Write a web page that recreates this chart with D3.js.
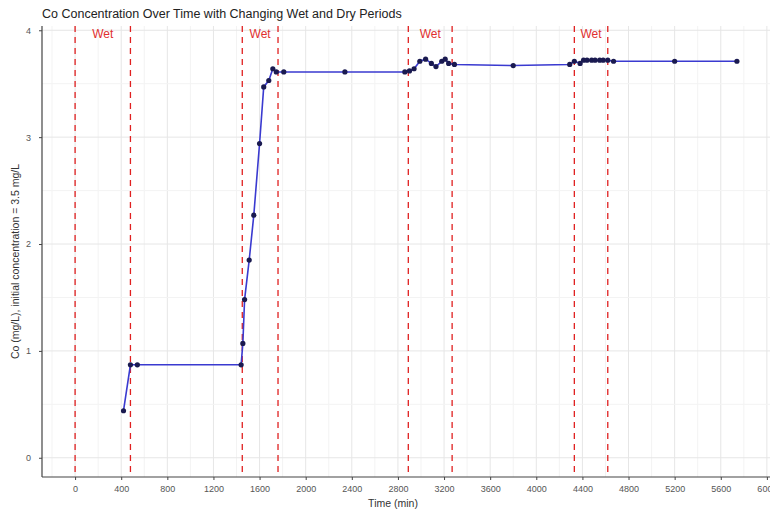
<!DOCTYPE html>
<html><head><meta charset="utf-8">
<script src="https://cdn.jsdelivr.net/npm/d3@7"></script>
<style>body{margin:0;background:#fff;} text{font-family:"Liberation Sans",Arial,sans-serif;}</style>
</head><body><svg id="c" width="770" height="512"></svg>
<script>
const times = [420,480,540,1440,1455,1470,1510,1550,1600,1636,1680,1715,1745,1810,2340,2860,2900,2940,2990,3040,3090,3130,3180,3210,3240,3290,3800,4290,4330,4380,4410,4440,4480,4510,4550,4580,4620,4670,5200,5740];
const conc  = [0.44,0.87,0.87,0.87,1.07,1.48,1.85,2.27,2.94,3.47,3.53,3.64,3.61,3.61,3.61,3.61,3.62,3.64,3.71,3.73,3.69,3.66,3.71,3.73,3.69,3.68,3.67,3.68,3.71,3.69,3.72,3.72,3.72,3.72,3.72,3.72,3.72,3.71,3.71,3.71];
const wetStarts = [0,1450,2890,4330];
const wetEnds   = [480,1760,3270,4620];
const xTicks = [0,400,800,1200,1600,2000,2400,2800,3200,3600,4000,4400,4800,5200,5600,6000];
const yTicks = [0,1,2,3,4];

const svg = d3.select("#c");
const L=42,R=770,T=26,B=477;
const x = d3.scaleLinear().domain([-287,6027]).range([L,R]);
const y = d3.scaleLinear().domain([-0.18,4.04]).range([B,T]);

// grid
const g = svg.append("g");
g.selectAll(".vmin").data(d3.range(-200,6100,200)).join("line")
  .attr("x1",d=>x(d)).attr("x2",d=>x(d)).attr("y1",T).attr("y2",B)
  .attr("stroke",d=>d%400===0?"#e6e6e6":"#f3f3f3").attr("stroke-width",1);
g.selectAll(".hmin").data(d3.range(0,4.01,0.5)).join("line")
  .attr("x1",L).attr("x2",R).attr("y1",d=>y(d)).attr("y2",d=>y(d))
  .attr("stroke",d=>d%1===0?"#e6e6e6":"#f3f3f3").attr("stroke-width",1);

// wet lines
const vls = wetStarts.concat(wetEnds);
svg.selectAll(".wl").data(vls).join("line")
  .attr("x1",d=>x(d)).attr("x2",d=>x(d)).attr("y1",T).attr("y2",B)
  .attr("stroke","#e02020").attr("stroke-width",1.3).attr("stroke-dasharray","6,5");
svg.selectAll(".wt").data(wetStarts).join("text")
  .attr("x",(d,i)=>x((d+wetEnds[i])/2)).attr("y",38).attr("text-anchor","middle")
  .attr("fill","#e03030").attr("font-size",12).text("Wet");

// line & points
const pts = times.map((t,i)=>[t,conc[i]]);
svg.append("path").datum(pts).attr("fill","none").attr("stroke","#3a3ad0").attr("stroke-width",1.6)
  .attr("d",d3.line().x(d=>x(d[0])).y(d=>y(d[1])));
svg.selectAll(".pt").data(pts).join("circle")
  .attr("cx",d=>x(d[0])).attr("cy",d=>y(d[1])).attr("r",2.6).attr("fill","#1a1a50");

// axes
const xa = svg.append("g").attr("transform",`translate(0,${B})`)
  .call(d3.axisBottom(x).tickValues(xTicks).tickSize(3).tickPadding(6).tickFormat(d3.format("d")));
const ya = svg.append("g").attr("transform",`translate(${L},0)`)
  .call(d3.axisLeft(y).tickValues(yTicks).tickSize(3).tickPadding(8).tickFormat(d3.format("d")));
[xa,ya].forEach(a=>{
  a.select(".domain").attr("stroke","#444").attr("stroke-width",1.2);
  a.selectAll(".tick line").attr("stroke","#444");
  a.selectAll(".tick text").attr("fill","#555").attr("font-size",9).attr("font-family","Liberation Sans, Arial, sans-serif");
});
xa.select(".domain").attr("d",`M${L},0H${R}`);
ya.select(".domain").attr("d",`M0,${T}V${B}`);

// titles
svg.append("text").attr("x",L).attr("y",18).attr("fill","#222").attr("font-size",12.5)
  .text("Co Concentration Over Time with Changing Wet and Dry Periods");
svg.append("text").attr("x",(L+R)/2-13).attr("y",507).attr("text-anchor","middle").attr("fill","#333").attr("font-size",10.5)
  .text("Time (min)");
svg.append("text").attr("transform",`translate(19,${(T+B)/2+10}) rotate(-90)`).attr("text-anchor","middle")
  .attr("fill","#333").attr("font-size",10.5).text("Co (mg/L), initial concentration = 3.5 mg/L");
</script></body></html>
